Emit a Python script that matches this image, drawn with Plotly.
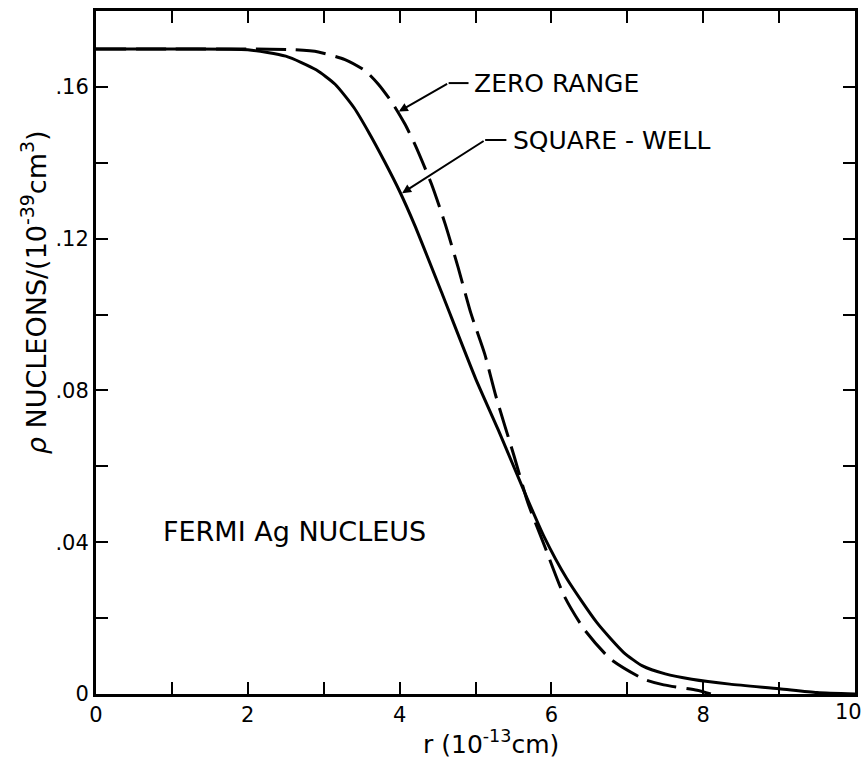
import plotly.graph_objects as go

# Nucleon density profiles of the Ag nucleus (Fermi model)
r_square_well = [0.0, 1.0, 2.0, 2.5, 2.9, 3.15, 3.4, 3.6, 3.8, 4.0, 4.2, 4.55,
                 5.0, 5.3, 5.65, 5.9, 6.2, 6.6, 6.95, 7.2, 7.5, 7.85, 8.35,
                 9.0, 9.5, 10.0]
rho_square_well = [0.170, 0.170, 0.1698, 0.1681, 0.1645, 0.1607, 0.1545, 0.1478,
                   0.1404, 0.1325, 0.1235, 0.1060, 0.0832, 0.0696, 0.0530, 0.0416,
                   0.0305, 0.0188, 0.0110, 0.0074, 0.0053, 0.0039, 0.0026,
                   0.0014, 0.0004, 0.0]

r_zero_range = [0.0, 1.0, 2.0, 2.6, 2.93, 3.28, 3.55, 3.72, 3.9, 4.07, 4.2, 4.42,
                4.6, 4.77, 4.94, 5.12, 5.27, 5.51, 5.69, 5.91, 6.17, 6.43, 6.78,
                7.22, 7.48, 7.92, 8.1]
rho_zero_range = [0.170, 0.170, 0.170, 0.1698, 0.1692, 0.1672, 0.1642, 0.1607,
                  0.1559, 0.1502, 0.1449, 0.1344, 0.1239, 0.1125, 0.1003, 0.0897,
                  0.0784, 0.0626, 0.0504, 0.0390, 0.0258, 0.0171, 0.0092, 0.0039,
                  0.0024, 0.0010, 0.0]

x_label_vals = [0, 2, 4, 6, 8]
x_label_text = ["0", "2", "4", "6", "8"]
x_minor_vals = [1, 3, 5, 7, 9]
y_label_vals = [0.0, 0.04, 0.08, 0.12, 0.16]
y_label_text = ["0", ".04", ".08", ".12", ".16"]
y_minor_vals = [0.02, 0.06, 0.10, 0.14]

FONT = "DejaVu Sans"
INK = "black"
TICK_SIZE = 21

fig = go.Figure()
fig.add_trace(go.Scatter(
    x=r_zero_range, y=rho_zero_range, mode="lines",
    line=dict(color=INK, width=3, dash="30px,10px", shape="spline", smoothing=0.6),
    name="ZERO RANGE", showlegend=False, hoverinfo="skip"))
fig.add_trace(go.Scatter(
    x=r_square_well, y=rho_square_well, mode="lines",
    line=dict(color=INK, width=3, shape="spline", smoothing=0.6),
    name="SQUARE-WELL", showlegend=False, hoverinfo="skip"))

axis_common = dict(
    showgrid=False, zeroline=False, showline=True, linecolor=INK, linewidth=3,
    mirror="ticks", ticks="inside", ticklen=12, tickwidth=2, tickcolor=INK,
    tickfont=dict(family=FONT, size=TICK_SIZE, color=INK),
)
minor_common = dict(ticks="inside", ticklen=12, tickwidth=2, tickcolor=INK,
                    showgrid=False)
fig.update_xaxes(range=[0, 10], tickmode="array", tickvals=x_label_vals,
                 ticktext=x_label_text,
                 minor=dict(tickmode="array", tickvals=x_minor_vals, **minor_common),
                 **axis_common)
fig.update_yaxes(range=[0, 0.18], tickmode="array", tickvals=y_label_vals,
                 ticktext=y_label_text,
                 minor=dict(tickmode="array", tickvals=y_minor_vals, **minor_common),
                 **axis_common)

# Right-hand end of the r axis: tick and label drawn at the frame corner
fig.add_annotation(x=10, y=0, xref="x", yref="y", text="10", showarrow=False,
                   xanchor="center", yanchor="top", xshift=-7, yshift=-4,
                   font=dict(family=FONT, size=TICK_SIZE, color=INK))

# Leader lines from the curve labels
leaders = [
    # (label, text x, text y, bend x, horizontal end x, tip x, tip y)
    ("ZERO RANGE", 4.95, 0.161, 4.646, 4.908, 3.99, 0.1535),
    ("SQUARE - WELL", 5.47, 0.146, 5.127, 5.407, 4.033, 0.1320),
]
for label, tx, ty, bx, hx, px, py in leaders:
    fig.add_shape(type="line", xref="x", yref="y", x0=bx, y0=ty, x1=hx, y1=ty,
                  line=dict(color=INK, width=2))
    fig.add_annotation(x=px, y=py, ax=bx, ay=ty, xref="x", yref="y",
                       axref="x", ayref="y", text="", showarrow=True,
                       arrowhead=2, arrowsize=0.9, arrowwidth=2, arrowcolor=INK)
    fig.add_annotation(x=tx, y=ty, xref="x", yref="y", text=label,
                       showarrow=False, xanchor="left", yanchor="middle",
                       font=dict(family=FONT, size=25, color=INK))

fig.add_annotation(x=0.862, y=0.0428, xref="x", yref="y", text="FERMI Ag NUCLEUS",
                   showarrow=False, xanchor="left", yanchor="middle",
                   font=dict(family=FONT, size=27, color=INK))

# Axis titles
fig.add_annotation(x=-0.0814, y=0.5886, xref="paper", yref="paper",
                   text="<i>ρ</i> NUCLEONS/(10<sup>-39</sup>cm<sup>3</sup>)",
                   textangle=-90, showarrow=False, xanchor="center", yanchor="middle",
                   font=dict(family=FONT, size=27, color=INK))
fig.add_annotation(x=0.521, y=-0.071, xref="paper", yref="paper",
                   text="r (10<sup>-13</sup>cm)", showarrow=False,
                   xanchor="center", yanchor="middle",
                   font=dict(family=FONT, size=25, color=INK))

fig.update_layout(
    width=866, height=758,
    margin=dict(l=96, r=8, t=11, b=64),
    paper_bgcolor="white", plot_bgcolor="white",
    showlegend=False,
)

fig.write_html("out.html")
